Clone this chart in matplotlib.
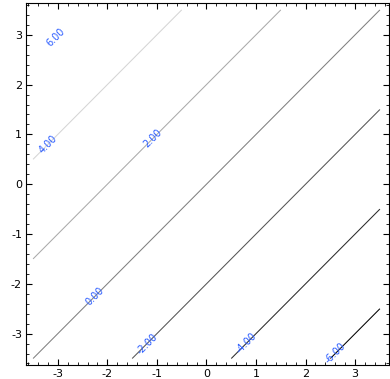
import matplotlib
matplotlib.use("Agg")
import matplotlib.pyplot as plt
from matplotlib.ticker import AutoMinorLocator
import numpy as np

plt.rcParams["axes.unicode_minus"] = False

# field values on a coarse grid (rows = y, columns = x)
x_grid = [-3.5, 0.0, 3.5]
y_grid = [-3.5, 0.0, 3.5]
z_grid = [
    [0.0, -3.5, -7.0],
    [3.5, 0.0, -3.5],
    [7.0, 3.5, 0.0],
]
levels = [-6, -4, -2, 0, 2, 4, 6]

# where the contour labels sit
label_spots = [
    (2.6, -3.4),
    (0.8, -3.2),
    (-1.2, -3.2),
    (-2.25, -2.25),
    (-1.1, 0.95),
    (-3.15, 0.75),
    (-3.05, 2.95),
]

fig = plt.figure(figsize=(3.9, 3.79), dpi=100)
ax = fig.add_axes([0.067, 0.037, 0.93, 0.954])

cs = ax.contour(
    np.array(x_grid),
    np.array(y_grid),
    np.array(z_grid),
    levels=levels,
    cmap="gray",
    linewidths=0.75,
)
ax.clabel(
    cs,
    levels,
    inline=False,
    fmt="%1.2f",
    fontsize=7,
    colors="#2a5cff",
    manual=label_spots,
)

ax.set_xlim(-3.64, 3.68)
ax.set_ylim(-3.63, 3.63)
ax.set_xticks([-3, -2, -1, 0, 1, 2, 3])
ax.set_yticks([-3, -2, -1, 0, 1, 2, 3])
ax.xaxis.set_minor_locator(AutoMinorLocator(5))
ax.yaxis.set_minor_locator(AutoMinorLocator(5))
ax.tick_params(which="both", direction="in", top=True, right=True,
               labelsize=8, pad=3)
ax.tick_params(which="major", length=4, width=0.8)
ax.tick_params(which="minor", length=2, width=0.6)

fig.savefig("out.png", dpi=100)
